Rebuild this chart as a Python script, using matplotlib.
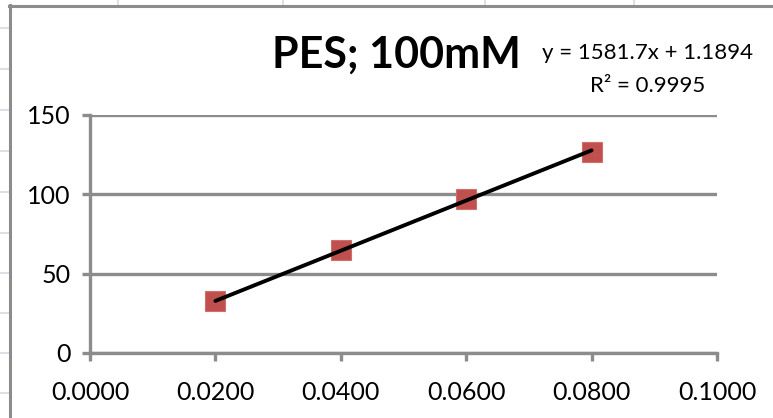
import matplotlib.pyplot as plt
from matplotlib.lines import Line2D
import numpy as np

# data
conc = [0.02, 0.04, 0.06, 0.08]
signal = [32.5, 65.2, 96.9, 126.6]
slope = 1581.7
intercept = 1.1894
r2 = 0.9995
x_ticks = [0.0, 0.02, 0.04, 0.06, 0.08, 0.1]
y_ticks = [0, 50, 100, 150]

W, H = 773, 418
plt.rcParams['font.family'] = ['Lato', 'DejaVu Sans']

fig = plt.figure(figsize=(W / 100, H / 100), dpi=100)
fig.patch.set_facecolor('white')

def px(x, y):
    # pixel coords (top-left origin) -> figure fraction
    return x / W, 1 - y / H

# spreadsheet cell grid behind the chart
sheet = '#d3dbe8'
for yy in [28, 69, 110, 151, 192, 233, 273, 313, 353, 393]:
    fig.add_artist(Line2D([0, 9 / W], [1 - yy / H] * 2, color=sheet, lw=1.2))
for xx in [118, 283, 485, 634]:
    fig.add_artist(Line2D([xx / W] * 2, [1, 1 - 5 / H], color=sheet, lw=1.2))

# chart frame
frame = '#8c8c8c'
fig.add_artist(Line2D([9 / W, 1], [1 - 5.5 / H] * 2, color=frame, lw=2.2))
fig.add_artist(Line2D([9.5 / W] * 2, [1 - 5 / H, 0], color=frame, lw=2.2))

ax = fig.add_axes([90 / W, 1 - 353 / H, (717 - 90) / W, (353 - 115) / H])
ax.set_facecolor('none')

ax.plot(conc, signal, linestyle='none', marker='s', markersize=14,
        markerfacecolor='#c0504d', markeredgecolor='#cf6f6c', markeredgewidth=0.8,
        zorder=3)

fit_x = np.array([conc[0], conc[-1]])
ax.plot(fit_x, slope * fit_x + intercept, color='black', lw=2.8,
        solid_capstyle='round', zorder=4)

ax.set_xlim(0, 0.1)
ax.set_ylim(0, 150)
ax.set_xticks(x_ticks)
ax.set_xticklabels([f'{v:.4f}' for v in x_ticks])
ax.set_yticks(y_ticks)
ax.set_yticklabels([str(v) for v in y_ticks])

ax.grid(axis='y', color=frame, lw=2.4, zorder=1)
ax.set_axisbelow(True)
for s in ['top', 'right']:
    ax.spines[s].set_visible(False)
for s in ['left', 'bottom']:
    ax.spines[s].set_color(frame)
    ax.spines[s].set_linewidth(2.4)
ax.tick_params(axis='both', colors=frame, labelcolor='black', width=2.4,
               length=6, labelsize=18)
ax.tick_params(axis='y', pad=8)
ax.tick_params(axis='x', pad=14)

fig.text(*px(396, 55), 'PES; 100mM', fontsize=31, fontweight='bold',
         ha='center', va='center')
fig.text(*px(648, 53), f'y = {slope}x + {intercept}', fontsize=16,
         ha='center', va='center')
fig.text(*px(648, 86), f'R² = {r2}', fontsize=16, ha='center', va='center')

fig.savefig('out.png', dpi=100)
